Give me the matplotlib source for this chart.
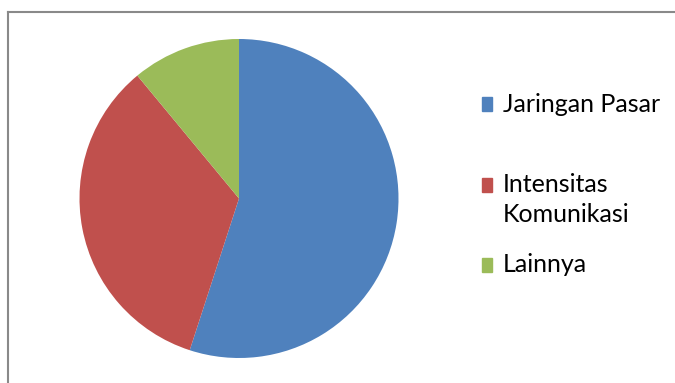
import matplotlib
matplotlib.use("Agg")
import matplotlib.pyplot as plt
from matplotlib.patches import Rectangle
from matplotlib.lines import Line2D

labels = ["Jaringan Pasar", "Intensitas\nKomunikasi", "Lainnya"]
values = [55, 34, 11]
colors = ["#4F81BD", "#C0504D", "#9BBB59"]

W, H = 675, 383
fig = plt.figure(figsize=(W / 100, H / 100), dpi=100)

# chart frame (grey border, cut off at right/bottom)
fig.add_artist(Line2D([8 / W, 8 / W], [0, (H - 12) / H], color="#898989", linewidth=1.5))
fig.add_artist(Line2D([8 / W, 1.0], [(H - 12) / H, (H - 12) / H], color="#898989", linewidth=1.5))

ax = fig.add_axes([79.5 / W, 25 / H, 319 / W, 319 / H])
ax.pie(values, colors=colors, startangle=90, counterclock=False,
       wedgeprops=dict(linewidth=0))
ax.set_xlim(-1, 1)
ax.set_ylim(-1, 1)
ax.set_aspect("equal")
ax.axis("off")

# legend drawn by hand to keep Excel-like spacing
ys = [104, 185, 265]
for lab, col, y in zip(labels, colors, ys):
    fig.patches.append(Rectangle((482 / W, (H - y - 7) / H), 10 / W, 14 / H,
                                 transform=fig.transFigure, color=col))
    lines = lab.split("\n")
    for i, line in enumerate(lines):
        fig.text(503 / W, (H - y - 30 * i) / H, line, fontsize=18, family="Lato",
                 va="center", ha="left")

fig.savefig("out.png", dpi=100)
